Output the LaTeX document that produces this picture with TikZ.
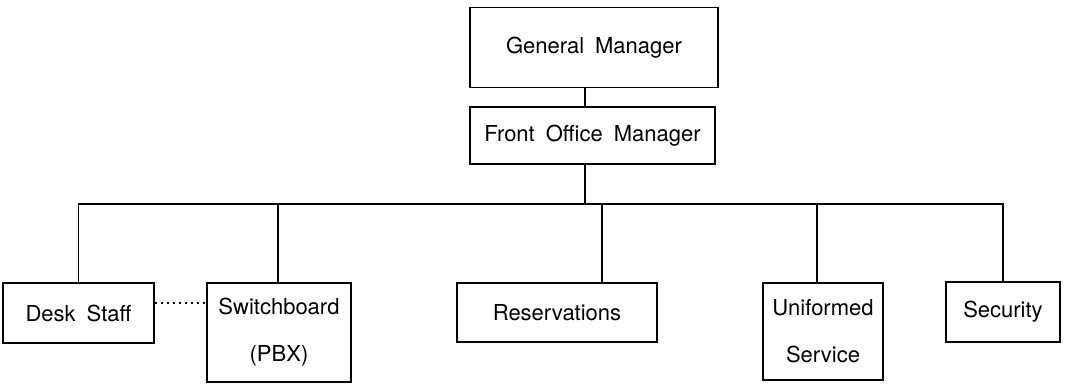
\documentclass[tikz,border=0pt]{standalone}
\usepackage{fontspec}
\setmainfont{TeX Gyre Heros}[WordSpace=1.8]
\usetikzlibrary{calc}
\tikzset{
  post/.style={draw, line width=1.6pt, align=center, inner sep=2pt,
    font=\fontsize{22}{47}\selectfont},
  link/.style={line width=1.6pt},
}
\begin{document}
\begin{tikzpicture}[x=1pt,y=-1pt]
  \useasboundingbox (0,0) rectangle (1092,383);
  \node[post, minimum width=248pt, minimum height=80pt] (gm) at (594,47.5) {General Manager};
  \node[post, minimum width=245pt, minimum height=57pt] (fom) at (592.5,135.5) {Front Office Manager};
  \node[post, minimum width=151pt, minimum height=60pt] (desk) at (78.5,313) {Desk Staff};
  \node[post, minimum width=144pt, minimum height=99pt] (switch) at (279,332.5) {Switchboard\\(PBX)};
  \node[post, minimum width=200pt, minimum height=59pt] (resv) at (557,312.5) {Reservations};
  \node[post, minimum width=120pt, minimum height=97pt] (unif) at (823,331.5) {Uniformed\\Service};
  \node[post, minimum width=114pt, minimum height=60pt] (secu) at (1003,312) {Security};
  \coordinate (bus) at (585,204);
  % lines
  \draw[link] (gm.south -| bus) -- (fom.north -| bus);
  \draw[link] (fom.south -| bus) -- (bus);
  \draw[link] (desk.north) |- (bus) -| (secu.north);
  \draw[link] ([xshift=-1pt]switch.north) -- ++(0,-79);
  \draw[link] ([xshift=45pt]resv.north) -- ++(0,-79);
  \draw[link] ([xshift=-6pt]unif.north) -- ++(0,-79);
  \draw[line width=1.4pt, dash pattern=on 2pt off 4pt] ([yshift=10pt]desk.east) -- ([yshift=10pt]desk.east -| switch.west);
\end{tikzpicture}
\end{document}
